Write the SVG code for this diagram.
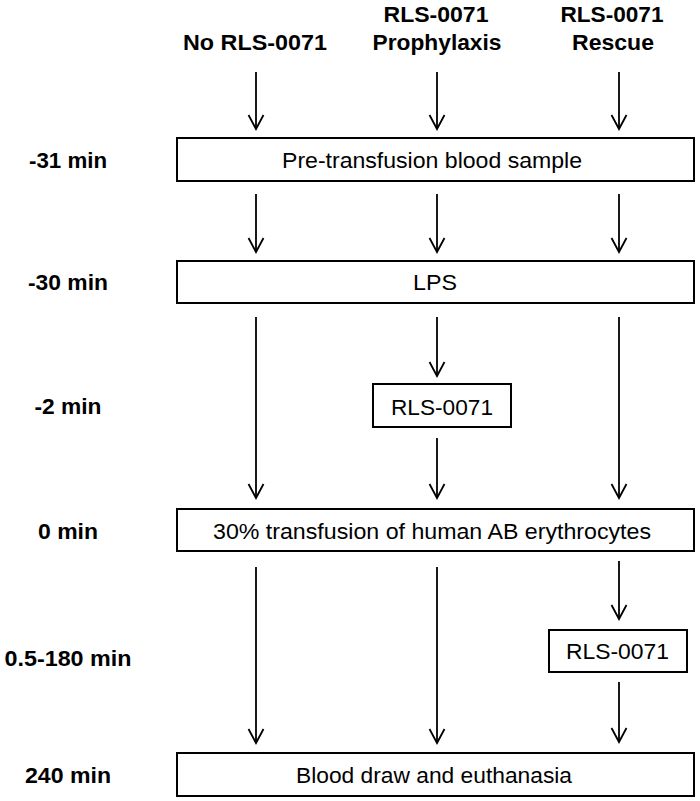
<svg xmlns="http://www.w3.org/2000/svg" width="700" height="801" viewBox="0 0 700 801">
<style>
.box{fill:#fff;stroke:#000;stroke-width:2}
.t{font-family:"Liberation Sans",Arial,sans-serif;font-size:22px;fill:#000;text-anchor:middle}
.b{font-family:"Liberation Sans",Arial,sans-serif;font-size:22px;font-weight:bold;fill:#000;text-anchor:middle}
.c{stroke:#000;stroke-width:1.8;fill:none;marker-end:url(#ah)}
</style>
<defs>
<marker id="ah" markerUnits="userSpaceOnUse" viewBox="-16 -10 20 20" markerWidth="20" markerHeight="20" refX="0" refY="0" orient="auto">
<path d="M-14,-7.5 L0,0 L-14,7.5" fill="none" stroke="#000" stroke-width="1.8"/>
</marker>
</defs>
<rect width="700" height="801" fill="#fff"/>
<g id="headers">
<text class="b" x="255" y="50" textLength="144" lengthAdjust="spacingAndGlyphs">No RLS-0071</text>
<text class="b" x="436" y="22" textLength="105" lengthAdjust="spacingAndGlyphs">RLS-0071</text>
<text class="b" x="437" y="50" textLength="129" lengthAdjust="spacingAndGlyphs">Prophylaxis</text>
<text class="b" x="612" y="22" textLength="103" lengthAdjust="spacingAndGlyphs">RLS-0071</text>
<text class="b" x="613" y="50" textLength="82" lengthAdjust="spacingAndGlyphs">Rescue</text>
</g>
<g id="time-labels">
<text class="b" x="68" y="168" textLength="78" lengthAdjust="spacingAndGlyphs">-31 min</text>
<text class="b" x="68" y="290" textLength="80" lengthAdjust="spacingAndGlyphs">-30 min</text>
<text class="b" x="68" y="414" textLength="67" lengthAdjust="spacingAndGlyphs">-2 min</text>
<text class="b" x="68" y="539" textLength="60" lengthAdjust="spacingAndGlyphs">0 min</text>
<text class="b" x="68" y="666" textLength="127" lengthAdjust="spacingAndGlyphs">0.5-180 min</text>
<text class="b" x="68" y="783" textLength="86" lengthAdjust="spacingAndGlyphs">240 min</text>
</g>
<g id="connectors">
<line class="c" x1="256" y1="72" x2="256" y2="129"/>
<line class="c" x1="437" y1="72" x2="437" y2="129"/>
<line class="c" x1="619" y1="72" x2="619" y2="129"/>
<line class="c" x1="256" y1="194" x2="256" y2="252"/>
<line class="c" x1="437" y1="194" x2="437" y2="252"/>
<line class="c" x1="619" y1="194" x2="619" y2="252"/>
<line class="c" x1="256" y1="317" x2="256" y2="498"/>
<line class="c" x1="437" y1="317" x2="437" y2="376"/>
<line class="c" x1="437" y1="438" x2="437" y2="498"/>
<line class="c" x1="619" y1="317" x2="619" y2="498"/>
<line class="c" x1="256" y1="567" x2="256" y2="743"/>
<line class="c" x1="437" y1="567" x2="437" y2="743"/>
<line class="c" x1="619" y1="561" x2="619" y2="619"/>
<line class="c" x1="619" y1="682" x2="619" y2="742"/>
</g>
<g id="pre-transfusion">
<rect class="box" x="177" y="138" width="517" height="43"/>
<text class="t" x="432" y="168" textLength="300" lengthAdjust="spacingAndGlyphs">Pre-transfusion blood sample</text>
</g>
<g id="lps">
<rect class="box" x="177" y="261" width="517" height="42"/>
<text class="t" x="435" y="290" textLength="44" lengthAdjust="spacingAndGlyphs">LPS</text>
</g>
<g id="rls-prophylaxis">
<rect class="box" x="373" y="384" width="138" height="43"/>
<text class="t" x="442" y="415" textLength="102" lengthAdjust="spacingAndGlyphs">RLS-0071</text>
</g>
<g id="transfusion">
<rect class="box" x="177" y="509" width="517" height="42"/>
<text class="t" x="432" y="539" textLength="438" lengthAdjust="spacingAndGlyphs">30% transfusion of human AB erythrocytes</text>
</g>
<g id="rls-rescue">
<rect class="box" x="549" y="630" width="138" height="42"/>
<text class="t" x="617.5" y="659" textLength="103" lengthAdjust="spacingAndGlyphs">RLS-0071</text>
</g>
<g id="blood-draw">
<rect class="box" x="177" y="753" width="517" height="43"/>
<text class="t" x="434" y="783" textLength="276" lengthAdjust="spacingAndGlyphs">Blood draw and euthanasia</text>
</g>
</svg>
